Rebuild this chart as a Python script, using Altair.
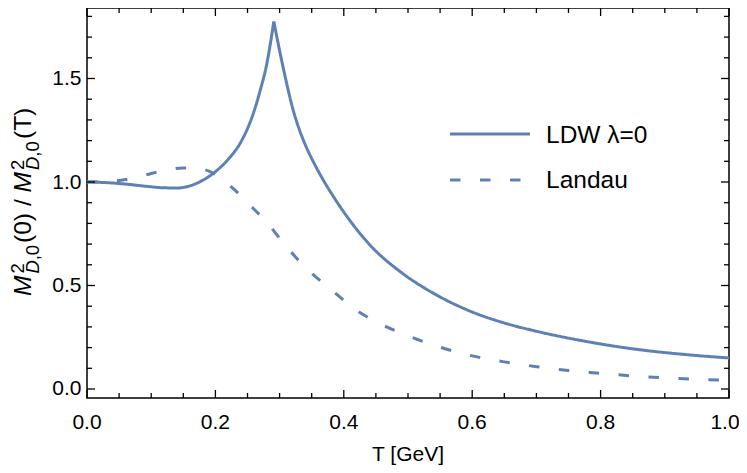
import altair as alt
import pandas as pd

# ---- data ----
ldw_left_T = [0.0, 0.03, 0.06, 0.09, 0.12, 0.14, 0.16, 0.18, 0.20, 0.22, 0.24, 0.26, 0.27, 0.28, 0.291]
ldw_left_v = [1.0, 0.997, 0.99, 0.98, 0.972, 0.971, 0.981, 1.008, 1.05, 1.11, 1.195, 1.34, 1.445, 1.57, 1.775]
ldw_right_T = [0.291, 0.30, 0.31, 0.32, 0.33, 0.34, 0.355, 0.37, 0.385, 0.40, 0.44, 0.49, 0.54,
               0.60, 0.65, 0.70, 0.77, 0.85, 0.93, 1.0]
ldw_right_v = [1.775, 1.635, 1.49, 1.36, 1.26, 1.18, 1.083, 0.999, 0.924, 0.855, 0.698, 0.562, 0.462,
               0.372, 0.319, 0.279, 0.234, 0.194, 0.167, 0.15]
landau_T = [0.0, 0.03, 0.06, 0.09, 0.12, 0.15, 0.17, 0.19, 0.21, 0.23, 0.25, 0.28, 0.31, 0.34, 0.38,
            0.42, 0.46, 0.50, 0.55, 0.60, 0.65, 0.70, 0.75, 0.80, 0.85, 0.90, 0.95, 1.0]
landau_v = [1.0, 1.002, 1.012, 1.033, 1.056, 1.068, 1.067, 1.052, 1.015, 0.962, 0.9, 0.805, 0.69, 0.588, 0.481,
            0.38, 0.31, 0.257, 0.202, 0.16, 0.131, 0.108, 0.089, 0.076, 0.063, 0.054, 0.047, 0.042]

x_major = [0.0, 0.2, 0.4, 0.6, 0.8, 1.0]
x_minor = [0.05, 0.1, 0.15, 0.25, 0.3, 0.35, 0.45, 0.5, 0.55, 0.65, 0.7, 0.75, 0.85, 0.9, 0.95]
y_major = [0.0, 0.5, 1.0, 1.5]
y_minor = [0.1, 0.2, 0.3, 0.4, 0.6, 0.7, 0.8, 0.9, 1.1, 1.2, 1.3, 1.4, 1.6, 1.7, 1.8]

series_names = ["LDW", "Landau"]
legend_labels = ["LDW λ=0", "Landau"]
x_title = "T [GeV]"

# ---- styling ----
W, H = 642, 390
XD = [0.0, 1.0]
YD = [-0.0435, 1.8406]
COLOR = "#5E81B5"
FONT = "Liberation Sans"
DASH = [10.5, 19.5]
TICKFS = 21

rows = []
for t, v in zip(ldw_left_T, ldw_left_v):
    rows.append({"T": t, "v": v, "series": "LDW", "branch": "LDW_a"})
for t, v in zip(ldw_right_T, ldw_right_v):
    rows.append({"T": t, "v": v, "series": "LDW", "branch": "LDW_b"})
for t, v in zip(landau_T, landau_v):
    rows.append({"T": t, "v": v, "series": "Landau", "branch": "Landau"})
df = pd.DataFrame(rows)

xs = alt.Scale(domain=XD, nice=False, zero=False)
ys = alt.Scale(domain=YD, nice=False, zero=False)

y_axis = alt.Axis(
    values=y_major, format=".1f", title=None, labelFont=FONT, labelFontSize=TICKFS, labelColor="black",
    ticks=False, tickSize=0, domain=False, grid=False, labelPadding=6, labelFlush=False)

X = lambda: alt.X("T:Q", scale=xs, axis=None)
Y = lambda: alt.Y("v:Q", scale=ys, axis=y_axis, title=None)

lines = alt.Chart(df).mark_line(strokeWidth=3, interpolate="monotone", color=COLOR, strokeCap="butt").encode(
    x=X(), y=Y(),
    detail="branch:N",
    strokeDash=alt.StrokeDash("series:N", scale=alt.Scale(domain=series_names, range=[[1, 0], DASH]), legend=None),
)

layers = [lines]

def tick_layers(vals, length, horizontal_axis):
    out = []
    if horizontal_axis:
        d = pd.DataFrame({"T": vals})
        out.append(alt.Chart(d).mark_rule(color="black", strokeWidth=1.3).encode(
            x=X(), y=alt.value(H), y2=alt.value(H - length)))
        out.append(alt.Chart(d).mark_rule(color="black", strokeWidth=1.3).encode(
            x=X(), y=alt.value(0), y2=alt.value(length)))
    else:
        d = pd.DataFrame({"v": vals})
        out.append(alt.Chart(d).mark_rule(color="black", strokeWidth=1.3).encode(
            y=Y(), x=alt.value(0), x2=alt.value(length)))
        out.append(alt.Chart(d).mark_rule(color="black", strokeWidth=1.3).encode(
            y=Y(), x=alt.value(W), x2=alt.value(W - length)))
    return out

layers += tick_layers(x_major, 8, True)
layers += tick_layers(x_minor, 5, True)
layers += tick_layers(y_major, 8, False)
layers += tick_layers(y_minor, 5, False)

# x tick labels (drawn as text through the x scale); the last one nudged to stay inside the page
xlab = pd.DataFrame({"T": x_major, "lab": [f"{v:.1f}" for v in x_major]})
layers.append(alt.Chart(xlab.iloc[:-1]).mark_text(align="center", baseline="alphabetic", font=FONT,
                                                  fontSize=TICKFS, color="black").encode(
    x=X(), y=alt.value(420.5), text="lab:N"))
layers.append(alt.Chart(xlab.iloc[-1:]).mark_text(align="center", baseline="alphabetic", font=FONT,
                                                  fontSize=TICKFS, color="black", dx=-4).encode(
    x=X(), y=alt.value(420.5), text="lab:N"))

one = pd.DataFrame({"a": [0]})

# x-axis title
layers.append(alt.Chart(one).mark_text(text=x_title, align="center", baseline="alphabetic", font=FONT,
                                       fontSize=TICKFS, color="black").encode(
    x=alt.value(W / 2), y=alt.value(453)))

# legend (manual, inside plot)
layers.append(alt.Chart(one).mark_rule(color=COLOR, strokeWidth=3).encode(
    x=alt.value(363), x2=alt.value(443), y=alt.value(126)))
layers.append(alt.Chart(one).mark_rule(color=COLOR, strokeWidth=3, strokeDash=DASH, strokeCap="butt").encode(
    x=alt.value(363), x2=alt.value(443), y=alt.value(172)))
layers.append(alt.Chart(one).mark_text(text=legend_labels[0], align="left", baseline="alphabetic",
                                       font=FONT, fontSize=24.5, color="black").encode(
    x=alt.value(459), y=alt.value(135)))
layers.append(alt.Chart(one).mark_text(text=legend_labels[1], align="left", baseline="alphabetic",
                                       font=FONT, fontSize=24.5, color="black").encode(
    x=alt.value(459), y=alt.value(180)))

# y-axis title built from pieces (rotated), page coords -> plot coords
OX, OY = 87, 8
MAIN, SCR = 24.5, 18.5
pieces = [
    # text, page_x_baseline, page_y_start, size, style
    ("M", 30.5, 296, MAIN, "italic"),
    ("2", 24, 273.6, SCR, "normal"),
    ("D", 39, 273.6, SCR, "italic"),
    (",0", 39, 260.3, SCR, "normal"),
    ("(0)", 30.5, 243, MAIN, "normal"),
    ("/", 30.5, 206, MAIN, "normal"),
    ("M", 30.5, 192.4, MAIN, "italic"),
    ("2", 24, 170, SCR, "normal"),
    ("D", 39, 170, SCR, "italic"),
    (",0", 39, 156.7, SCR, "normal"),
    ("(T)", 30.5, 139, MAIN, "normal"),
]
for txt, px, py, size, style in pieces:
    layers.append(alt.Chart(one).mark_text(text=txt, angle=270, align="left", baseline="alphabetic",
                                           font=FONT, fontSize=size, fontStyle=style, color="black").encode(
        x=alt.value(px - OX), y=alt.value(py - OY)))

chart = alt.layer(*layers).properties(
    width=W, height=H,
    autosize=alt.AutoSizeParams(type="none"),
    padding={"left": 79, "top": 0, "right": 10, "bottom": 67},
).configure_view(stroke="black", strokeWidth=1.5)

chart.save("out.html", embed_options={"renderer": "svg", "actions": False})
